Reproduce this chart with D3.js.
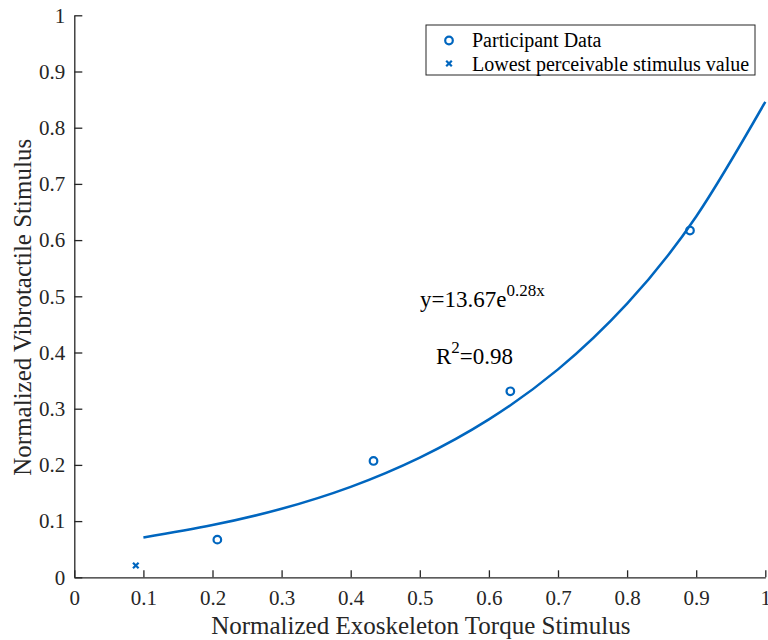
<!DOCTYPE html>
<html>
<head>
<meta charset="utf-8">
<script src="https://d3js.org/d3.v7.min.js"></script>
<style>
  html, body { margin: 0; padding: 0; background: #fff; }
  svg { display: block; }
</style>
</head>
<body>
<svg id="chart" width="768" height="640" font-family="Liberation Serif, Times New Roman, serif"></svg>
<script>
// ---- Data ----
const participantX = [0.207, 0.433, 0.631, 0.891];
const participantY = [0.067, 0.207, 0.331, 0.617];
const lowestX = [0.089];
const lowestY = [0.021];
// fitted curve
const fitX = [0.1, 0.2, 0.3, 0.4, 0.5, 0.6, 0.7, 0.8, 0.9, 1.0];
const fitY = [0.071, 0.093, 0.122, 0.161, 0.213, 0.281, 0.370, 0.487, 0.642, 0.846];
const xTicks = [0, 0.1, 0.2, 0.3, 0.4, 0.5, 0.6, 0.7, 0.8, 0.9, 1];
const xTickLabels = ["0", "0.1", "0.2", "0.3", "0.4", "0.5", "0.6", "0.7", "0.8", "0.9", "1"];
const yTicks = [0, 0.1, 0.2, 0.3, 0.4, 0.5, 0.6, 0.7, 0.8, 0.9, 1];
const yTickLabels = ["0", "0.1", "0.2", "0.3", "0.4", "0.5", "0.6", "0.7", "0.8", "0.9", "1"];
const legendLabels = ["Participant Data", "Lowest perceivable stimulus value"];
const xLabel = "Normalized Exoskeleton Torque Stimulus";
const yLabel = "Normalized Vibrotactile Stimulus";

// ---- Layout ----
const FONT = "Liberation Serif, Times New Roman, serif";
const blue = "#0066BF";
const axisColor = "#262626";
const svg = d3.select("#chart");
const x = d3.scaleLinear().domain([0, 1]).range([74.3, 765.3]);
const y = d3.scaleLinear().domain([0, 1]).range([577.3, 15.3]);

// axes
const xAxis = d3.axisBottom(x).tickValues(xTicks)
  .tickFormat((d, i) => xTickLabels[i]).tickSizeInner(-7).tickSizeOuter(0).tickPadding(13);
const yAxis = d3.axisLeft(y).tickValues(yTicks)
  .tickFormat((d, i) => yTickLabels[i]).tickSizeInner(-8).tickSizeOuter(0).tickPadding(9);

const gx = svg.append("g").attr("transform", `translate(0,${y(0)})`).call(xAxis);
const gy = svg.append("g").attr("transform", `translate(${x(0)},0)`).call(yAxis);
[gx, gy].forEach(g => {
  g.attr("font-family", FONT).attr("font-size", 21);
  g.select(".domain").attr("stroke", axisColor).attr("stroke-width", 1.3);
  g.selectAll(".tick line").attr("stroke", axisColor).attr("stroke-width", 1.3);
  g.selectAll(".tick text").attr("fill", axisColor).attr("font-family", FONT).attr("font-size", 21);
});

// axis labels
svg.append("text").attr("x", (x(0) + x(1)) / 2 + 1).attr("y", 634)
  .attr("text-anchor", "middle").attr("fill", axisColor)
  .attr("font-family", FONT).attr("font-size", 25).text(xLabel);
svg.append("text").attr("transform", `translate(31,${(y(0) + y(1)) / 2 + 11}) rotate(-90)`)
  .attr("text-anchor", "middle").attr("fill", axisColor)
  .attr("font-family", FONT).attr("font-size", 25).text(yLabel);

// fitted curve
const fitData = fitX.map((v, i) => [v, fitY[i]]);
svg.append("path").datum(fitData)
  .attr("d", d3.line().x(d => x(d[0])).y(d => y(d[1])).curve(d3.curveNatural))
  .attr("fill", "none").attr("stroke", blue).attr("stroke-width", 2.5);

// participant points
const pData = participantX.map((v, i) => [v, participantY[i]]);
svg.selectAll("circle.p").data(pData).enter().append("circle")
  .attr("cx", d => x(d[0])).attr("cy", d => y(d[1])).attr("r", 3.8)
  .attr("fill", "none").attr("stroke", blue).attr("stroke-width", 2.2);

// lowest perceivable marker (x)
const crossPath = (cx, cy, s) => `M${cx - s},${cy - s}L${cx + s},${cy + s}M${cx - s},${cy + s}L${cx + s},${cy - s}`;
const lData = lowestX.map((v, i) => [v, lowestY[i]]);
svg.selectAll("path.l").data(lData).enter().append("path")
  .attr("d", d => crossPath(x(d[0]), y(d[1]), 2.8))
  .attr("stroke", blue).attr("stroke-width", 2.2).attr("fill", "none");

// annotations
const eq = svg.append("text").attr("x", 420).attr("y", 307).attr("fill", "#000")
  .attr("font-family", FONT).attr("font-size", 23);
eq.append("tspan").text("y=13.67e");
eq.append("tspan").attr("dy", -11).attr("font-size", 17).text("0.28x");
const r2 = svg.append("text").attr("x", 436).attr("y", 364).attr("fill", "#000")
  .attr("font-family", FONT).attr("font-size", 23);
r2.append("tspan").text("R");
r2.append("tspan").attr("dy", -11).attr("font-size", 17).text("2");
r2.append("tspan").attr("dy", 11).text("=0.98");

// legend
const lg = svg.append("g");
lg.append("rect").attr("x", 426).attr("y", 25).attr("width", 329).attr("height", 50)
  .attr("fill", "#fff").attr("stroke", axisColor).attr("stroke-width", 1);
lg.append("circle").attr("cx", 449).attr("cy", 40.5).attr("r", 3.8)
  .attr("fill", "none").attr("stroke", blue).attr("stroke-width", 2.2);
lg.append("path").attr("d", crossPath(449, 63.5, 2.8))
  .attr("stroke", blue).attr("stroke-width", 2.2).attr("fill", "none");
lg.selectAll("text").data(legendLabels).enter().append("text")
  .attr("x", 472).attr("y", (d, i) => 47 + i * 23.5)
  .attr("fill", "#000").attr("font-family", FONT).attr("font-size", 20).text(d => d);
</script>
</body>
</html>
